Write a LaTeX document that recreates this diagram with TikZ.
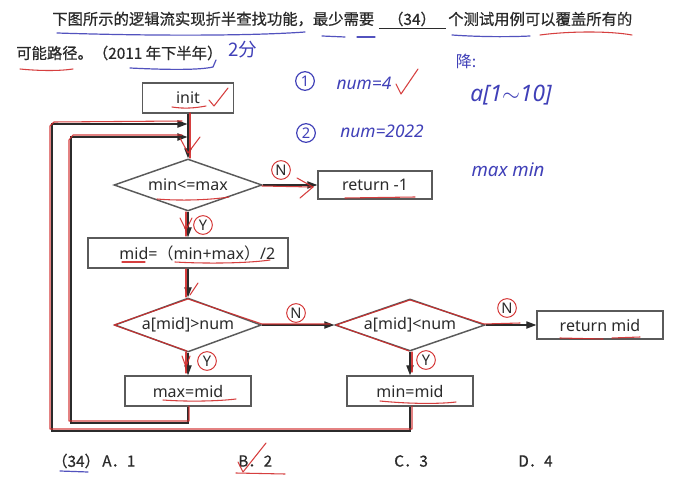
\documentclass[tikz,border=0pt]{standalone}
\usepackage{fontspec}
\setmainfont{Noto Sans}
\newfontfamily\cjk{Noto Sans CJK SC}
\newfontfamily\cjkb{Noto Sans CJK SC}[FakeBold=0.6]
\usetikzlibrary{shapes.geometric,arrows.meta,calc}
\definecolor{boxgray}{HTML}{5A5A5A}
\definecolor{lncol}{HTML}{2B2B2B}
\definecolor{txt}{HTML}{2A2A2A}
\definecolor{redm}{HTML}{D22B2B}
\definecolor{hblue}{HTML}{4040B8}
\begin{document}
\begin{tikzpicture}[x=0.75pt,y=-0.75pt,
 box/.style={draw=boxgray,line width=1.1pt,rectangle,inner sep=0pt,text=txt,font=\fontsize{12pt}{14pt}\selectfont},
 dia/.style={draw=boxgray,line width=1.1pt,diamond,aspect=2.8,inner sep=0pt,text=txt,font=\fontsize{12pt}{14pt}\selectfont},
 arr/.style={draw=lncol,line width=0.9pt,-{Triangle[length=7.5pt,width=5.5pt]}},
 yn/.style={circle,draw=redm,line width=0.7pt,inner sep=0pt,minimum size=14pt,text=txt,font=\fontsize{11pt}{11pt}\selectfont},
 tr/.style={draw=redm,line width=0.8pt,line cap=round,line join=round,opacity=0.9},
 bl/.style={draw=hblue,line width=0.9pt,line cap=round,line join=round,opacity=0.9},
 hand/.style={text=hblue,inner sep=0pt,font=\fontsize{13pt}{15pt}\selectfont},
 ttl/.style={text=txt,inner sep=0pt,font=\cjkb\fontsize{11.5pt}{14pt}\selectfont},
]
\useasboundingbox (0,0) rectangle (680,477);
\fill[white] (0,0) rectangle (680,477);

% ---------- question text ----------
\node[ttl,anchor=west] (t1) at (52,19) {下图所示的逻辑流实现折半查找功能，最少需要};
\node[ttl] (t2) at (412,19) {（34）};
\draw[lncol,line width=0.7pt] (379,28) -- (446,28);
\node[ttl,anchor=west] (t3) at (448,19) {个测试用例可以覆盖所有的};
\node[ttl,anchor=west] (t4) at (16,53) {可能路径。（2011 年下半年）};

% ---------- flowchart ----------
\node[box,minimum width=68.25pt,minimum height=22.5pt] (init) at (188,98) {init};
\node[dia,minimum width=111pt,minimum height=39pt] (d1) at (188,185) {min<=max};
\node[box,minimum width=85.5pt,minimum height=21pt] (r1) at (375,185) {return -1};
\node[box,minimum width=150pt,minimum height=22.5pt] (mb) at (188,253) {\hspace*{14pt}mid={\cjk（}min+max{\cjk）}/2};
\node[dia,minimum width=110pt,minimum height=40.5pt] (d2) at (188,325) {a[mid]>num};
\node[dia,minimum width=112.5pt,minimum height=39pt] (d3) at (410,325) {a[mid]<num};
\node[box,minimum width=94.5pt,minimum height=21pt] (rm) at (600,325) {return mid};
\node[box,minimum width=94.5pt,minimum height=22.5pt] (xm) at (188,391) {max=mid};
\node[box,minimum width=94.5pt,minimum height=22.5pt] (nm) at (410,391) {min=mid};

\draw[arr] (init.south) -- (d1.north);
\draw[arr] (d1.east) -- (r1.west);
\draw[arr] (d1.south) -- (mb.north);
\draw[arr] (mb.south) -- (d2.north);
\draw[arr] (d2.east) -- (d3.west);
\draw[arr] (d3.east) -- (rm.west);
\draw[arr] (d2.south) -- (xm.north);
\draw[arr] (d3.south) -- (nm.north);
\coordinate (c1) at (71,423);
\coordinate (j2) at (187.4,137);
\coordinate (c2) at (52,431);
\coordinate (j1) at (187.4,124);
\draw[arr] (xm.south) |- (c1) |- (j2);
\draw[arr] (nm.south) |- (c2) |- (j1);

% ---------- Y / N labels ----------
\node[yn] (n1) at (281,170) {N};
\node[yn] (y1) at (203,225) {Y};
\node[yn] (n2) at (296,313) {N};
\node[yn] (y2) at (207,361) {Y};
\node[yn] (n3) at (507,308) {N};
\node[yn] (y3) at (426,360) {Y};

% ---------- answers ----------
\node[ttl,anchor=west] (a0) at (52,461) {（34）};
\node[ttl,anchor=west] (a1) at (102,461) {A．1};
\node[ttl,anchor=west] (a2) at (238,461) {B．2};
\node[ttl,anchor=west] (a3) at (394,461) {C．3};
\node[ttl,anchor=west] (a4) at (518,461) {D．4};

% ---------- handwritten notes ----------
\node[hand,font=\cjk\fontsize{14pt}{16pt}\selectfont] (h0) at (243,50) {2分};
\node[circle,draw=hblue,line width=0.9pt,minimum size=14pt,inner sep=0pt,text=hblue,font=\fontsize{11pt}{11pt}\selectfont] (o1) at (305,81) {1};
\node[hand,font=\itshape\fontsize{13pt}{15pt}\selectfont] (h1) at (364,83) {num=4};
\node[circle,draw=hblue,line width=0.9pt,minimum size=14pt,inner sep=0pt,text=hblue,font=\fontsize{11pt}{11pt}\selectfont] (o2) at (306,133) {2};
\node[hand,font=\itshape\fontsize{13pt}{15pt}\selectfont] (h2) at (382,131) {num=2022};
\node[hand,font=\cjk\fontsize{12pt}{14pt}\selectfont] (h3) at (466,61) {降:};
\node[hand,font=\itshape\fontsize{17pt}{19pt}\selectfont] (h4) at (511,95) {a[1$\sim$10]};
\node[hand,font=\itshape\fontsize{14pt}{16pt}\selectfont] (h5) at (508,170) {max min};

% ---------- blue / red underlines in text ----------
\draw[bl] (57,33) .. controls (150,36) and (250,36) .. (305,32);
\draw[bl] (322,36) -- (345,37);
\draw[bl] (357,37) -- (375,37);
\draw[bl] (452,35) .. controls (480,37) and (510,37) .. (530,36);
\draw[tr] (540,35) .. controls (570,31) and (610,31) .. (632,35);
\draw[tr] (20,69) .. controls (40,71) and (60,71) .. (73,69);
\draw[bl] (130,68) .. controls (170,70) and (200,70) .. (213,67) -- (216,60);
\draw[bl] (60,471) -- (88,472);
\draw[tr] (236,473) -- (285,474);
\draw[tr] (238,462) -- (243,472) -- (266,443);
\draw[tr] (396,84) -- (401,94) -- (418,69);

% ---------- red marks on the flowchart ----------
\draw[tr] (209,100) -- (214,106) -- (228,88);
\draw[tr] (172,107) .. controls (185,109) and (195,108) .. (206,106);
\draw[tr] (157,199) .. controls (180,201) and (210,200) .. (229,197);
\draw[tr] (345,198) -- (415,197);
\draw[tr] (122,262) -- (145,262);
\draw[tr] (175,262) .. controls (210,264) and (250,263) .. (270,260);
\draw[tr] (163,400) .. controls (190,402) and (220,401) .. (236,399);
\draw[tr] (380,401) .. controls (410,404) and (440,404) .. (456,402);
\draw[tr] (560,338) -- (603,339);
\draw[tr] (612,338) -- (640,337);
% connector traces
\draw[tr] (190,113) -- (190,158);
\draw[tr] (180,138) -- (188,153) -- (200,137);
\draw[tr] (412,406) -- (412,429) -- (50,429) -- (50,126) -- (54,122) -- (182,121);
\draw[tr] (189,406) -- (189,421) -- (69,421) -- (69,140) -- (73,135) -- (182,135);
\draw[tr] (262,186) -- (313,187);
\draw[tr] (297,178) -- (313,187) -- (300,198);
\draw[tr] (186,212) -- (186,236);
\draw[tr] (180,218) -- (186,230) -- (192,218);
\draw[tr] (186,269) -- (186,297);
\draw[tr] (190,295) -- (198,283);
\draw[tr] (188,299) -- (262,324) -- (330,324);
\draw[tr] (188,299) -- (114,325) -- (187,351);
\draw[tr] (186,352) -- (186,373);
\draw[tr] (182,356) -- (186,367) -- (190,356);
\draw[tr] (410,300) -- (484,324) -- (520,323);
\draw[tr] (410,300) -- (336,325) -- (409,351);
\draw[tr] (412,352) -- (412,372);
\end{tikzpicture}
\end{document}
